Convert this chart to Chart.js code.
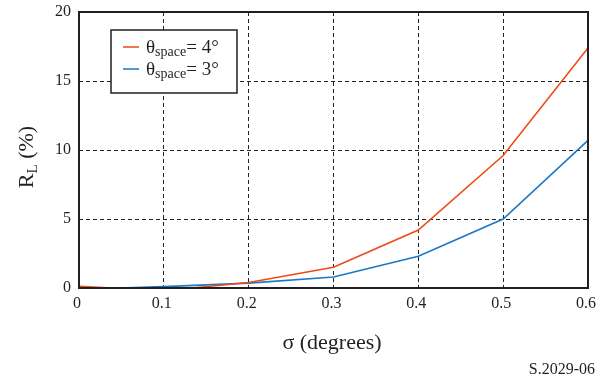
<!DOCTYPE html>
<html>
<head>
<meta charset="utf-8">
<script src="https://cdn.jsdelivr.net/npm/chart.js@4/dist/chart.umd.min.js"></script>
<style>
html,body{margin:0;padding:0;background:#fff;}
#wrap{position:relative;width:597px;height:383px;}
</style>
</head>
<body>
<div id="wrap"><canvas id="c" width="597" height="383"></canvas></div>
<script>
const sigma = [0, 0.1, 0.2, 0.3, 0.4, 0.5, 0.6];
const rl4 = [0.12, -0.2, 0.4, 1.5, 4.2, 9.6, 17.4];
const rl3 = [-0.1, 0.1, 0.35, 0.8, 2.3, 5.0, 10.7];
const xTicks = [0, 0.1, 0.2, 0.3, 0.4, 0.5, 0.6];
const yTicks = [0, 5, 10, 15, 20];
const seriesNames = ['θ|space|= 4°', 'θ|space|= 3°'];
const RED = '#EE4A16';
const BLUE = '#1A78C6';
const SERIF = '"Liberation Serif", "Times New Roman", serif';

const decor = {
  id: 'decor',
  afterDraw(chart) {
    const ctx = chart.ctx;
    const a = chart.chartArea;
    ctx.save();
    ctx.strokeStyle = '#231f20';
    ctx.lineWidth = 2;
    ctx.setLineDash([]);
    ctx.strokeRect(a.left, a.top, a.right - a.left, a.bottom - a.top);
    const bx = 111, by = 30, bw = 126, bh = 63;
    ctx.fillStyle = '#fff';
    ctx.fillRect(bx, by, bw, bh);
    ctx.lineWidth = 1.5;
    ctx.strokeRect(bx, by, bw, bh);
    const cols = [RED, BLUE];
    const ys = [47, 69];
    for (let i = 0; i < 2; i++) {
      ctx.strokeStyle = cols[i];
      ctx.lineWidth = 1.5;
      ctx.beginPath();
      ctx.moveTo(123, ys[i]); ctx.lineTo(139, ys[i]); ctx.stroke();
      const parts = seriesNames[i].split('|');
      ctx.fillStyle = '#231f20';
      ctx.textBaseline = 'alphabetic';
      ctx.textAlign = 'left';
      let x = 146;
      const base = ys[i] + 6;
      ctx.font = '19px ' + SERIF;
      ctx.fillText(parts[0], x, base);
      x += ctx.measureText(parts[0]).width;
      ctx.font = '14px ' + SERIF;
      ctx.fillText(parts[1], x, base + 3);
      x += ctx.measureText(parts[1]).width;
      ctx.font = '19px ' + SERIF;
      ctx.fillText(parts[2], x, base);
    }
    ctx.fillStyle = '#231f20';
    ctx.font = '22px ' + SERIF;
    ctx.textAlign = 'center';
    ctx.fillText('σ (degrees)', 332, 349);
    ctx.save();
    ctx.translate(33, 157);
    ctx.rotate(-Math.PI / 2);
    ctx.textAlign = 'left';
    ctx.font = '22px ' + SERIF;
    const w1 = ctx.measureText('R').width;
    ctx.font = '15px ' + SERIF;
    const w2 = ctx.measureText('L').width;
    ctx.font = '22px ' + SERIF;
    const w3 = ctx.measureText(' (%)').width;
    let x0 = -(w1 + w2 + w3) / 2;
    ctx.fillText('R', x0, 0);
    ctx.font = '15px ' + SERIF;
    ctx.fillText('L', x0 + w1, 4);
    ctx.font = '22px ' + SERIF;
    ctx.fillText(' (%)', x0 + w1 + w2, 0);
    ctx.restore();
    ctx.font = '16px ' + SERIF;
    ctx.textAlign = 'right';
    ctx.fillText('S.2029-06', 595, 374);
    ctx.restore();
  }
};

new Chart(document.getElementById('c'), {
  type: 'line',
  data: {
    datasets: [
      { label: 'θspace= 4°', data: sigma.map((s, i) => ({x: s, y: rl4[i]})), borderColor: RED, borderWidth: 1.6, pointRadius: 0, tension: 0, fill: false, clip: 0 },
      { label: 'θspace= 3°', data: sigma.map((s, i) => ({x: s, y: rl3[i]})), borderColor: BLUE, borderWidth: 1.6, pointRadius: 0, tension: 0, fill: false, clip: 0 }
    ]
  },
  options: {
    responsive: false,
    animation: false,
    events: [],
    layout: { padding: { left: 0, right: 9, top: 12, bottom: 0 } },
    plugins: { legend: { display: false }, tooltip: { enabled: false } },
    scales: {
      x: {
        type: 'linear', min: 0, max: 0.6,
        afterFit(s) { s.height = 95; s.paddingLeft = 0; s.paddingRight = 0; },
        afterBuildTicks(s) { s.ticks = xTicks.map(v => ({value: v})); },
        grid: { color: '#222', lineWidth: 1, drawTicks: false },
        border: { display: false, dash: [4, 3] },
        ticks: { color: '#231f20', font: { family: SERIF, size: 16 }, padding: 6, labelOffset: -2,
                 callback: v => String(v) }
      },
      y: {
        type: 'linear', min: 0, max: 20,
        afterFit(s) { s.width = 79; s.paddingTop = 0; s.paddingBottom = 0; },
        afterBuildTicks(s) { s.ticks = yTicks.map(v => ({value: v})); },
        grid: { color: '#222', lineWidth: 1, drawTicks: false },
        border: { display: false, dash: [4, 3] },
        ticks: { color: '#231f20', font: { family: SERIF, size: 16 }, padding: 8,
                 callback: v => String(v) }
      }
    }
  },
  plugins: [decor]
});
</script>
</body>
</html>
